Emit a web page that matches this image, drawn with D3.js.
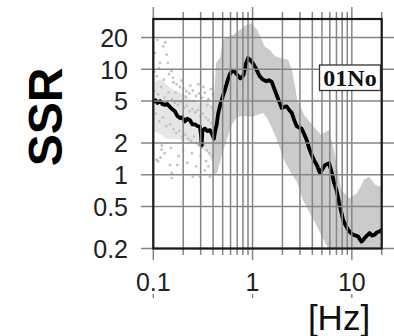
<!DOCTYPE html>
<html>
<head>
<meta charset="utf-8">
<script src="https://cdn.jsdelivr.net/npm/d3@7"></script>
<style>
  html, body { margin: 0; padding: 0; background: #fff; }
  svg { display: block; }
</style>
</head>
<body>
<svg id="chart" width="394" height="336"></svg>
<script>
// Mean site spectral ratio (Hz, SSR)
const meanFreq = [0.100,0.105,0.110,0.117,0.123,0.131,0.138,0.147,0.155,0.165,0.175,0.186,0.196,0.208,0.220,0.234,0.248,0.263,0.278,0.295,0.302,0.307,0.312,0.331,0.350,0.372,0.390,0.408,0.420,0.435,0.45,0.47,0.50,0.53,0.56,0.59,0.62,0.66,0.70,0.75,0.78,0.81,0.85,0.90,0.95,1.01,1.08,1.18,1.27,1.38,1.46,1.56,1.65,1.75,1.86,1.97,2.08,2.2,2.35,2.49,2.63,2.78,2.95,3.12,3.30,3.5,3.7,3.94,4.2,4.44,4.62,4.8,5.1,5.4,5.9,6.3,6.6,7.0,7.6,8.2,8.7,9.2,9.8,10.3,11.0,11.6,12.0,12.5,13.0,13.4,14.2,15.1,16.0,16.9,18.0,19.0,20.0];
const meanSSR  = [4.9,5.1,4.8,5.0,4.7,4.6,4.7,4.4,4.2,4.0,3.6,3.45,3.5,3.2,3.4,3.3,3.0,3.0,2.9,2.85,2.4,1.9,2.6,2.75,2.6,2.65,2.45,2.2,2.6,3.0,3.8,4.5,5.5,6.5,7.8,9.0,9.6,9.5,8.9,8.2,8.4,8.8,11,12.8,12.2,11.4,10.2,8.6,8.0,7.7,7.9,7.6,6.6,5.7,4.9,4.3,4.4,4.45,4.1,3.85,3.3,2.9,2.8,2.75,2.45,2.15,1.8,1.55,1.35,1.24,1.12,1.04,1.15,1.24,1.29,1.04,0.85,0.72,0.5,0.37,0.33,0.30,0.28,0.27,0.265,0.26,0.245,0.233,0.24,0.25,0.265,0.28,0.265,0.27,0.285,0.29,0.30];

// Spread of the individual records above 0.4 Hz
const bandFreq  = [0.40,0.43,0.47,0.50,0.56,0.64,0.75,0.87,0.99,1.11,1.24,1.33,1.49,1.67,1.88,2.27,2.5,2.82,3.3,4.2,4.9,5.9,6.6,7.8,9.4,11.3,13.3,15.0,17.3,20.0];
const bandUpper = [4.1,11.6,12.9,19.1,20,21.3,23.7,26.5,27,23.7,19,16.4,15.3,13.4,12.9,12.3,9.9,5.15,3.7,2.8,2.4,2.67,1.73,0.72,0.6,0.67,0.9,0.96,0.8,0.77];
const bandLowerFreq = [0.40,0.44,0.49,0.55,0.62,0.70,0.84,0.99,1.13,1.27,1.39,1.56,1.76,1.98,2.2,2.5,2.8,3.2,3.6,4.2,4.9,5.5,6.0,20.0];
const bandLower = [1.0,1.04,1.55,2.15,3.0,3.55,3.6,3.55,3.7,3.87,3.47,2.8,2.15,1.55,1.24,1.0,0.86,0.58,0.47,0.36,0.27,0.22,0.19,0.19];

// Low-frequency cloud of individual records
const cloudFreq  = [0.100,0.12,0.14,0.17,0.20,0.25,0.30,0.35,0.40,0.43];
const cloudUpper = [7.5,8.0,7.0,6.2,5.8,5.0,4.8,5.0,4.2,3.6];
const cloudLower = [2.6,2.4,2.2,2.2,2.1,2.0,1.8,1.6,1.3,1.3];

const dotFreq = [0.104,0.108,0.117,0.126,0.136,0.14,0.153,0.11,0.132,0.16,0.172,0.185,0.2,0.215,0.23,0.25,0.27,0.29,0.31,0.33,0.36,0.38,0.4,
  0.102,0.106,0.112,0.115,0.12,0.125,0.13,0.135,0.142,0.148,0.155,0.16,0.165,0.17,0.178,0.183,0.19,0.196,0.205,0.21,0.218,0.225,0.232,0.24,0.248,0.256,0.265,0.272,0.28,0.288,0.298,0.305,0.315,0.325,0.338,0.345,0.358,0.37,0.385,0.395,0.41,0.42,
  0.108,0.112,0.121,0.147,0.153,0.153,0.25,0.295,0.372,0.13,0.18,0.22,0.27,0.33,0.4,0.175,0.118,
  0.103,0.114,0.128,0.144,0.158,0.168,0.192,0.212,0.236,0.26,0.285,0.32,0.35,0.39,0.43,0.101,0.122,0.15,0.2,0.245,0.3,0.34,0.36];
const dotSSR = [14.3,8.6,11.5,16.5,13.8,11.5,9.6,19,18,7.5,7.2,6.8,6.6,6.2,5.9,6.3,5.6,5.9,5.4,6.0,5.2,6.5,5.8,
  6.2,3.8,5.8,3.2,6.8,3.5,5.4,2.9,6.0,3.0,5.2,2.7,4.8,2.5,4.6,2.6,4.9,2.3,4.3,2.4,4.5,2.2,4.0,2.1,4.2,2.3,3.9,2.0,4.1,1.9,3.6,1.8,3.8,1.9,3.5,1.7,3.3,1.6,3.1,1.5,2.9,1.4,
  1.39,1.34,1.73,1.24,1.04,0.93,0.96,0.96,0.96,1.6,1.5,1.3,1.2,1.1,1.0,1.24,1.45,
  9.5,10.2,8.0,9.0,8.3,6.0,7.8,5.5,7.0,5.0,7.2,6.8,4.6,4.4,5.0,2.0,1.9,1.8,1.7,1.6,1.5,1.35,1.2];

const yTicks = [0.2,0.5,1,2,5,10,20];
const yTickLabels = ["0.2","0.5","1","2","5","10","20"];
const xTicks = [0.1,1,10];
const xTickLabels = ["0.1","1","10"];
const stationName = "01No";

const sans = "'Liberation Sans', Arial, Helvetica, sans-serif";
const serif = "'Liberation Serif', 'Times New Roman', Times, serif";

const svg = d3.select("#chart");
const W = 394, H = 336;
const plotL = 153.3, plotR = 381.7, plotT = 19, plotB = 248.5;

const x = d3.scaleLog().domain([0.1, 20]).range([plotL, plotR]);
const y = d3.scaleLog().domain([0.2, 30]).range([plotB, plotT]);

svg.append("rect").attr("width", W).attr("height", H).attr("fill", "#fff");

svg.append("defs").append("clipPath").attr("id", "plot")
  .append("rect").attr("x", plotL).attr("y", plotT)
  .attr("width", plotR - plotL).attr("height", plotB - plotT);

const data = svg.append("g").attr("clip-path", "url(#plot)");

// low-frequency cloud
const cloud = cloudFreq.map((f, i) => ({f, u: cloudUpper[i], l: cloudLower[i]}));
data.append("path")
  .attr("d", d3.area().x(d => x(d.f)).y0(d => y(d.l)).y1(d => y(d.u)).curve(d3.curveCatmullRom)(cloud))
  .attr("fill", "#e6e6e6");

data.selectAll("circle.dot").data(dotFreq.map((f, i) => ({f, v: dotSSR[i]})))
  .join("circle").attr("class", "dot")
  .attr("cx", d => x(d.f)).attr("cy", d => y(d.v)).attr("r", 1.4)
  .attr("fill", "#c4c4c4");

// band of individual records
const upperPts = bandFreq.map((f, i) => [x(f), y(bandUpper[i])]);
const lowerPts = bandLowerFreq.map((f, i) => [x(f), y(bandLower[i])]).reverse();
data.append("path")
  .attr("d", d3.line().curve(d3.curveLinearClosed)(upperPts.concat(lowerPts)))
  .attr("fill", "#cbcbcb");

// grid with ticks reaching outside the frame
const grid = svg.append("g").attr("stroke", "#858585").attr("stroke-width", 1.5);
const vLines = [];
[0.1, 1, 10].forEach(dec => { for (let k = 1; k <= 9; k++) { const v = +(k * dec).toPrecision(3); if (v <= 20) vLines.push(v); } });
grid.selectAll("line.v").data(vLines).join("line").attr("class", "v")
  .attr("x1", d => x(d)).attr("x2", d => x(d))
  .attr("y1", d => xTicks.includes(d) ? 7 : 12)
  .attr("y2", d => xTicks.includes(d) ? 260 : 255);
grid.selectAll("line.h").data(yTicks).join("line").attr("class", "h")
  .attr("x1", 141).attr("x2", 394)
  .attr("y1", d => y(d)).attr("y2", d => y(d));

// mean curve
data.append("path")
  .datum(meanFreq.map((f, i) => [f, meanSSR[i]]))
  .attr("d", d3.line().x(d => x(d[0])).y(d => y(d[1])))
  .attr("fill", "none").attr("stroke", "#000").attr("stroke-width", 3.8)
  .attr("stroke-linejoin", "round");

// frame
svg.append("rect").attr("x", plotL).attr("y", plotT)
  .attr("width", plotR - plotL).attr("height", plotB - plotT)
  .attr("fill", "none").attr("stroke", "#1a1a1a").attr("stroke-width", 2.2);

// tick labels
svg.append("g").selectAll("text").data(yTicks).join("text")
  .attr("x", 128).attr("y", d => y(d)).attr("dy", "0.37em")
  .attr("text-anchor", "end").style("font-family", sans).style("font-size", "25px").attr("fill", "#222")
  .text((d, i) => yTickLabels[i]);

svg.append("g").selectAll("text").data(xTicks).join("text")
  .attr("x", d => x(d)).attr("y", 291)
  .attr("text-anchor", "middle").style("font-family", sans).style("font-size", "25px").attr("fill", "#222")
  .text((d, i) => xTickLabels[i]);

svg.append("g").selectAll("line").data(xTicks).join("line")
  .attr("x1", d => x(d)).attr("x2", d => x(d)).attr("y1", 294).attr("y2", 298)
  .attr("stroke", "#777").attr("stroke-width", 1.3);

// axis titles
svg.append("text").attr("transform", "translate(62,117) rotate(-90)")
  .attr("text-anchor", "middle").style("font-family", sans).style("font-size", "48px")
  .style("font-weight", "bold").attr("fill", "#000").text("SSR");

svg.append("text").attr("x", 339).attr("y", 330)
  .attr("text-anchor", "middle").style("font-family", sans).style("font-size", "35px")
  .attr("fill", "#111").text("[Hz]");

// station label
svg.append("rect").attr("x", 319.5).attr("y", 65).attr("width", 61).attr("height", 25.5)
  .attr("fill", "#fff").attr("stroke", "#333").attr("stroke-width", 1.3);
svg.append("text").attr("x", 350).attr("y", 86)
  .attr("text-anchor", "middle").style("font-family", serif).style("font-size", "24px")
  .style("font-weight", "bold").attr("fill", "#111").text(stationName);
</script>
</body>
</html>
